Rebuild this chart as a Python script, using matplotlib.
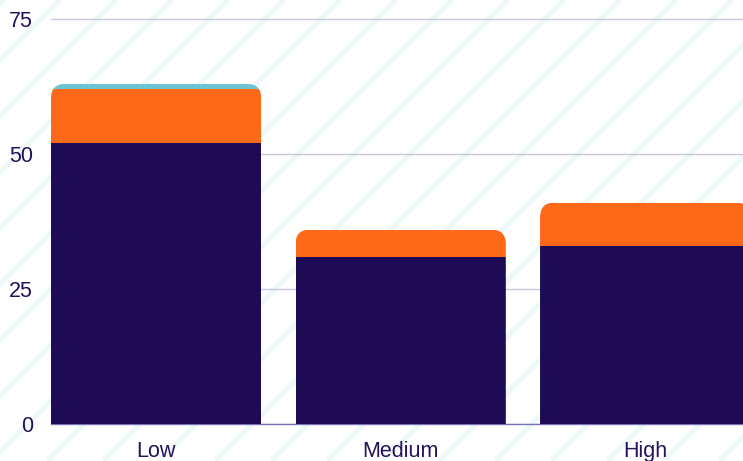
import matplotlib
matplotlib.use("Agg")
import matplotlib.pyplot as plt
from matplotlib.patches import FancyBboxPatch
from matplotlib.transforms import IdentityTransform

categories = ["Low", "Medium", "High"]
base = [52, 31, 33]
middle = [10, 5, 8]
top = [1, 0, 0]
yticks = [0, 25, 50, 75]

navy = "#1e0b55"
orange = "#fd6919"
teal = "#6cc4d0"
text_col = "#24125c"

plt.rcParams["font.family"] = ["Liberation Sans", "DejaVu Sans"]

fig = plt.figure(figsize=(7.43, 4.61), dpi=100)

# background stripes
bg = fig.add_axes([0, 0, 1, 1], zorder=-1)
bg.set_xlim(0, 743)
bg.set_ylim(461, 0)
bg.axis("off")
for c in range(4, 743 + 461 + 56, 56):
    bg.plot([c, c - 461], [0, 461], color="#eff8f9", lw=3.8, solid_capstyle="butt")

ax = fig.add_axes([51 / 743, 37 / 461, 1 - 51 / 743, 424 / 461])
ax.set_facecolor("none")

x = list(range(len(categories)))
width = 0.86
b1 = ax.bar(x, base, width, color=navy, zorder=3)
b2 = ax.bar(x, middle, width, bottom=base, color=orange, zorder=3)
bottom3 = [a + b for a, b in zip(base, middle)]
b3 = ax.bar(x, top, width, bottom=bottom3, color=teal, zorder=3)

ax.set_xlim(-width / 2, 2.40)
ax.set_ylim(0, 75 * 424 / 405)

# rounded tops: clip every stack with a rounded box (in pixels)
for i in x:
    total = base[i] + middle[i] + top[i]
    x0, y0 = ax.transData.transform((i - width / 2, -10))
    x1, y1 = ax.transData.transform((i + width / 2, total))
    clip = FancyBboxPatch((x0, y0), x1 - x0, y1 - y0,
                          boxstyle="round,pad=0,rounding_size=14.5",
                          transform=IdentityTransform())
    for bars in (b1, b2, b3):
        bars[i].set_clip_path(clip)

ax.set_yticks(yticks)
ax.set_xticks(x)
ax.set_xticklabels(categories)
ax.tick_params(axis="both", length=0, labelsize=15.5, labelcolor=text_col)
ax.tick_params(axis="y", pad=13)
ax.tick_params(axis="x", pad=12)
ax.yaxis.grid(True, color="#c9c5dd", lw=1, zorder=0)
ax.set_axisbelow(True)
for s in ["top", "right", "left"]:
    ax.spines[s].set_visible(False)
ax.spines["bottom"].set_color("#7a6fb0")
ax.spines["bottom"].set_linewidth(1)
ax.spines["bottom"].set_zorder(2)

fig.savefig("out.png", dpi=100)
